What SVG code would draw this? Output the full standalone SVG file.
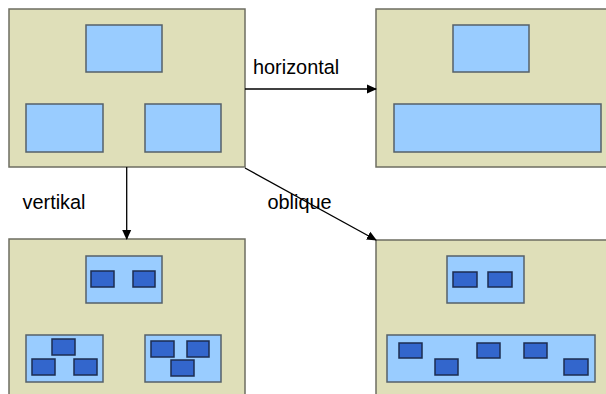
<svg xmlns="http://www.w3.org/2000/svg" width="606" height="394" viewBox="0 0 606 394">
  <style>
    .panel { fill: #DFDFB9; stroke: #6e6e62; stroke-width: 1.5; }
    .box { fill: #99CCFF; stroke: #55606a; stroke-width: 1.5; }
    .blk { fill: #3366CC; stroke: #1c2c50; stroke-width: 1.5; }
    .lbl { font-family: "Liberation Sans", Arial, sans-serif; font-size: 19.9px; fill: #000; }
    .conn { stroke: #000; stroke-width: 1.3; fill: none; marker-end: url(#arrow); }
  </style>
  <defs>
    <marker id="arrow" markerWidth="10" markerHeight="10" refX="9" refY="5" orient="auto" markerUnits="userSpaceOnUse">
      <path d="M0,0.5 L10,5 L0,9.5 Z" fill="#000"/>
    </marker>
  </defs>

  <rect width="606" height="394" fill="#fff"/>

  <!-- Source layout -->
  <g id="source">
    <rect class="panel" x="9" y="9" width="236" height="158"/>
    <rect class="box" x="86" y="25" width="76" height="47"/>
    <rect class="box" x="26" y="104" width="77" height="48"/>
    <rect class="box" x="145" y="104" width="76" height="48"/>
  </g>

  <!-- Horizontal result -->
  <g id="horizontal-result">
    <rect class="panel" x="376" y="9" width="240" height="158"/>
    <rect class="box" x="453" y="25" width="76" height="47"/>
    <rect class="box" x="394" y="104" width="207" height="48"/>
  </g>

  <!-- Vertical result -->
  <g id="vertical-result">
    <rect class="panel" x="9" y="239" width="236" height="165"/>
    <rect class="box" x="86" y="256" width="76" height="47"/>
    <rect class="blk" x="91" y="271" width="23" height="16"/>
    <rect class="blk" x="133" y="271" width="22" height="16"/>
    <rect class="box" x="26" y="335" width="77" height="47"/>
    <rect class="blk" x="52" y="339" width="23" height="16"/>
    <rect class="blk" x="32" y="359" width="23" height="16"/>
    <rect class="blk" x="74" y="359" width="23" height="16"/>
    <rect class="box" x="145" y="335" width="76" height="47"/>
    <rect class="blk" x="151" y="341" width="23" height="16"/>
    <rect class="blk" x="187" y="341" width="22" height="16"/>
    <rect class="blk" x="171" y="360" width="23" height="16"/>
  </g>

  <!-- Oblique result -->
  <g id="oblique-result">
    <rect class="panel" x="376" y="240" width="240" height="164"/>
    <rect class="box" x="447" y="256" width="77" height="47"/>
    <rect class="blk" x="453" y="272" width="24" height="15"/>
    <rect class="blk" x="488" y="272" width="24" height="15"/>
    <rect class="box" x="387" y="335" width="208" height="47"/>
    <rect class="blk" x="399" y="343" width="23" height="15"/>
    <rect class="blk" x="435" y="359" width="23" height="16"/>
    <rect class="blk" x="477" y="343" width="23" height="15"/>
    <rect class="blk" x="524" y="343" width="23" height="15"/>
    <rect class="blk" x="564" y="359" width="24" height="16"/>
  </g>

  <!-- Connectors -->
  <g id="connectors">
    <line class="conn" x1="245" y1="89" x2="376" y2="89"/>
    <line class="conn" x1="126.7" y1="167" x2="126.7" y2="239"/>
    <line class="conn" x1="245" y1="168" x2="376" y2="240"/>
    <text class="lbl" x="253" y="74">horizontal</text>
    <text class="lbl" x="22.5" y="209">vertikal</text>
    <text class="lbl" x="267.5" y="209">oblique</text>
  </g>
</svg>
